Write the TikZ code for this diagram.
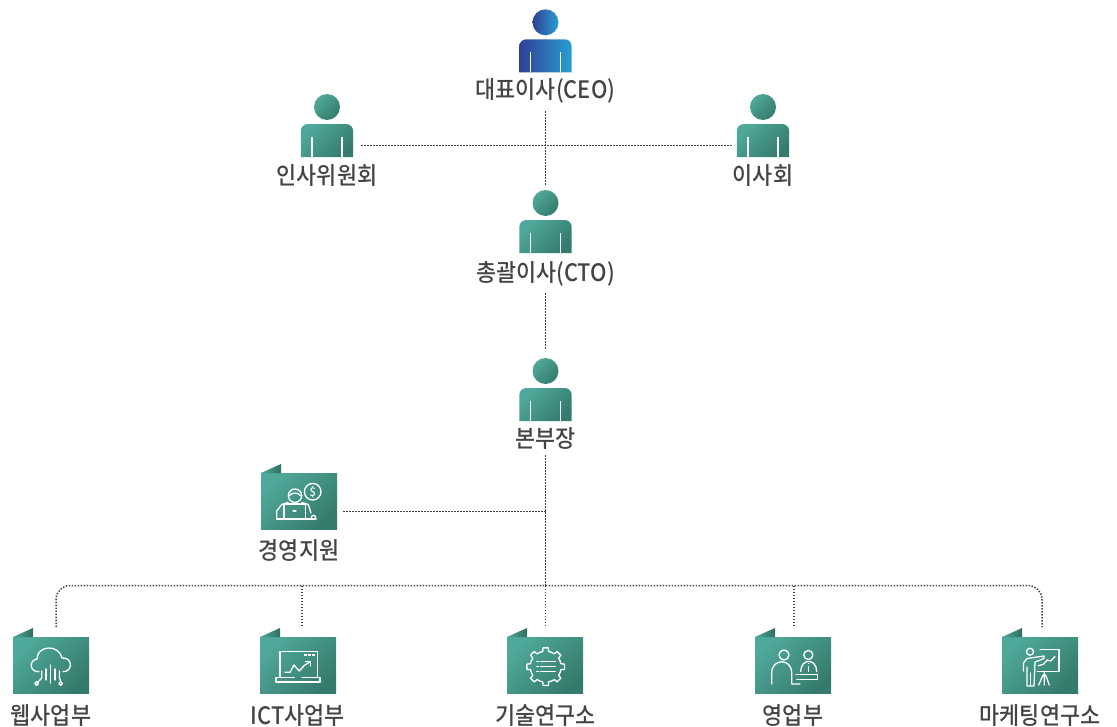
\documentclass[tikz,border=0pt]{standalone}
\usepackage{fontspec}
\setmainfont{Noto Sans CJK KR Medium}[FakeStretch=0.91]
\usetikzlibrary{positioning}
\definecolor{tealA}{HTML}{4FA99A}
\definecolor{tealB}{HTML}{357B6D}
\definecolor{blueA}{HTML}{2F3F97}
\definecolor{blueB}{HTML}{2A9FD0}
\definecolor{ink}{HTML}{444444}
\tikzstyle{conn} = [ink, line width=1.5pt, dash pattern=on 1.5pt off 1.5pt]
\tikzstyle{orgname} = [ink, font=\fontsize{24}{24}\selectfont, inner sep=0pt]
\tikzstyle{tealshade} = [top color=tealA, bottom color=tealB, shading angle=45]
\tikzstyle{ceoshade} = [left color=blueA, right color=blueB]
\tikzstyle{icon} = [white, line width=1.3pt, line join=round, line cap=round]
\tikzset{
  pics/person/.style={code={
    \shade[#1] (0,-17) circle (13);
    \shade[#1] (-26.2,33) [rounded corners=7] -- (-26.2,0) -- (26.2,0) [sharp corners] -- (26.2,33) -- cycle;
    \draw[white, line width=1.2pt] (-15,13) -- (-15,33) (15,13) -- (15,33);
  }},
  pics/folder/.style={code={
    \shade[tealshade] (0,0) rectangle (76,56);
    \shade[left color=tealA, right color=tealB!90!black] (0,0) -- (20,-9) -- (20,0) -- cycle;
  }},
  pics/cloudicon/.style={code={
    \draw[icon] (26,34.7) .. controls (16,35) and (16,23) .. (24,22)
      .. controls (24,8) and (46,7) .. (49,21)
      .. controls (60,20) and (60,35) .. (50,34.7);
    \draw[icon] (33,32) -- (33,43) (37.7,28) -- (37.7,46) (42,32) -- (42,43);
    \draw[icon] (28.7,34) -- (28.7,41) -- (25,45);
    \draw[icon] (46.5,34) -- (46.5,41) -- (47.7,44.5);
    \draw[icon] (23.7,46.5) circle (1.8) (47.7,46.5) circle (1.8);
  }},
  pics/charticon/.style={code={
    \draw[icon] (20,40) -- (20,14.7) -- (57.3,14.7) -- (57.3,40);
    \draw[icon] (34,40.5) -- (16,40.5) -- (16,45) -- (60,45) -- (60,40.5) -- (42,40.5);
    \draw[icon] (25,35.3) -- (30,35.3) -- (34,28) -- (39.3,34) -- (44,28.7) -- (50,24.7);
    \draw[icon] (45.5,24.5) -- (50.5,24.5) -- (50.5,29);
    \draw[icon, dash pattern=on 2.5pt off 1.5pt, line cap=butt] (44,18) -- (55,18);
  }},
  pics/gearicon/.style={code={
    \foreach \a in {0,45,...,315}
      \draw[icon] (\a-22.5:15.5) -- (\a-11:15.5) -- (\a-8:19) -- (\a+8:19) -- (\a+11:15.5) -- (\a+22.5:15.5);
    \foreach \b in {-5,0,5} {
      \draw[icon] (-9,\b) -- (-7,\b);
      \draw[icon] (-5,\b) -- (9.5,\b);
    }
  }},
  pics/deskicon/.style={code={
    \draw[icon] (29,18) circle (5) (53.3,18) circle (4.5);
    \draw[icon] (16.7,47) -- (16.7,36) .. controls (16.7,21) and (36.7,21) .. (36.7,36) -- (36.7,47) -- (45,47);
    \draw[icon] (45.7,34.7) .. controls (45.7,21) and (61.7,21) .. (61.7,34.7);
    \draw[icon, line width=1.6pt, line cap=butt] (53.3,25.5) -- (53.3,27) (53.3,29) -- (53.3,35);
    \draw[icon] (41,37.3) -- (62.3,37.3) -- (62.3,42.3) -- (41.7,42.3);
  }},
  pics/boardicon/.style={code={
    \draw[icon] (28,14.7) circle (3.5);
    \draw[icon] (21.5,34) -- (21.5,26) -- (25,21.5) -- (42,19) -- (42,21.5) -- (33,25) -- (32,49) -- (25,49) -- (25,30);
    \draw[icon] (28.5,36) -- (28.5,49);
    \draw[icon] (38,12.3) -- (57,12.3) -- (57,34.7) -- (35.3,34.7);
    \draw[icon] (36.3,28.7) -- (41.3,27.3) -- (45.3,23) -- (48.7,24) -- (53,19.3);
    \draw[icon] (42.3,35) -- (42.3,48) (41,38) -- (36.7,48) (43.6,38) -- (47.3,48);
  }},
  pics/laptopicon/.style={code={
    \draw[icon] (51.7,18.7) circle (8.3);
    \node[white, inner sep=0pt, font=\fontsize{12}{12}\selectfont] (dollar) at (51.7,18.7) {\$};
    \draw[icon] (34,22.7) circle (6.7);
    \draw[icon] (28,23) .. controls (31,19) and (37,19) .. (40,23);
    \draw[icon] (15.7,46) -- (15.7,38) -- (20.7,31.5) -- (27,29.5) (41,29.5) -- (47.3,31.5) -- (50,40);
    \draw[icon] (23,46) -- (23,31) -- (44.7,31) -- (44.7,46);
    \draw[icon] (15.7,46) -- (55,46);
    \draw[icon] (32,38) -- (35,38);
    \draw[icon] (50,46) .. controls (50,41) and (55,41) .. (55,46);
  }}
}

\begin{document}
\begin{tikzpicture}[x=1pt, y=-1pt]
    \useasboundingbox (0,0) rectangle (1117,726);

    % Placing the people
    \pic at (545.5,39.3) {person=ceoshade};
    \pic at (327,124) {person=tealshade};
    \pic at (763,124) {person=tealshade};
    \pic at (545.5,220) {person=tealshade};
    \pic at (545.5,388) {person=tealshade};
    \node [orgname] (ceo) at (545.5,90.5) {대표이사(CEO)};
    \node [orgname] (hr) at (327,175.5) {인사위원회};
    \node [orgname] (board) at (763,175.5) {이사회};
    \node [orgname] (cto) at (545.5,273.5) {총괄이사(CTO)};
    \node [orgname] (head) at (545.5,438.5) {본부장};

    % Placing the folders
    \pic at (261,473) {folder};
    \pic at (261,473) {laptopicon};
    \pic at (13,637) {folder};
    \pic at (13,637) {cloudicon};
    \pic at (260,637) {folder};
    \pic at (260,637) {charticon};
    \pic at (507,637) {folder};
    \pic at (545.7,666.7) {gearicon};
    \pic at (755,637) {folder};
    \pic at (755,637) {deskicon};
    \pic at (1002,637) {folder};
    \pic at (1002,637) {boardicon};
    \node [orgname] (support) at (299,550.5) {경영지원};
    \node [orgname] (web) at (51,715.5) {웹사업부};
    \node [orgname] (ict) at (298,715.5) {ICT사업부};
    \node [orgname] (lab) at (545.5,715.5) {기술연구소};
    \node [orgname] (sales) at (793,715.5) {영업부};
    \node [orgname] (market) at (1040,715.5) {마케팅연구소};

    % Connector ends
    \coordinate (ceoout) at (545.5,111);
    \coordinate (ctoin) at (545.5,185);
    \coordinate (ctoout) at (545.5,293);
    \coordinate (headin) at (545.5,350);
    \coordinate (headout) at (545.5,455);
    \coordinate (bus) at (545.5,585.5);
    \coordinate (hrout) at (361,145.5);
    \coordinate (boardin) at (732,145.5);
    \coordinate (supportout) at (343,511.5);
    \coordinate (supportin) at (545.5,511.5);
    \coordinate (webin) at (56,627);
    \coordinate (ictin) at (302,627);
    \coordinate (labin) at (545.5,627);
    \coordinate (salesin) at (794,627);
    \coordinate (marketin) at (1042,627);
    \coordinate (ictbus) at (302,585.5);
    \coordinate (salesbus) at (794,585.5);

    % Connecting the nodes
    \draw [conn] (ceoout) -- (ctoin);
    \draw [conn] (hrout) -- (boardin);
    \draw [conn] (ctoout) -- (headin);
    \draw [conn] (headout) -- (bus);
    \draw [conn] (supportout) -- (supportin);
    \draw [conn, rounded corners=14] (webin) |- (bus) -| (marketin);
    \draw [conn] (ictbus) -- (ictin);
    \draw [conn] (bus) -- (labin);
    \draw [conn] (salesbus) -- (salesin);
\end{tikzpicture}
\end{document}
